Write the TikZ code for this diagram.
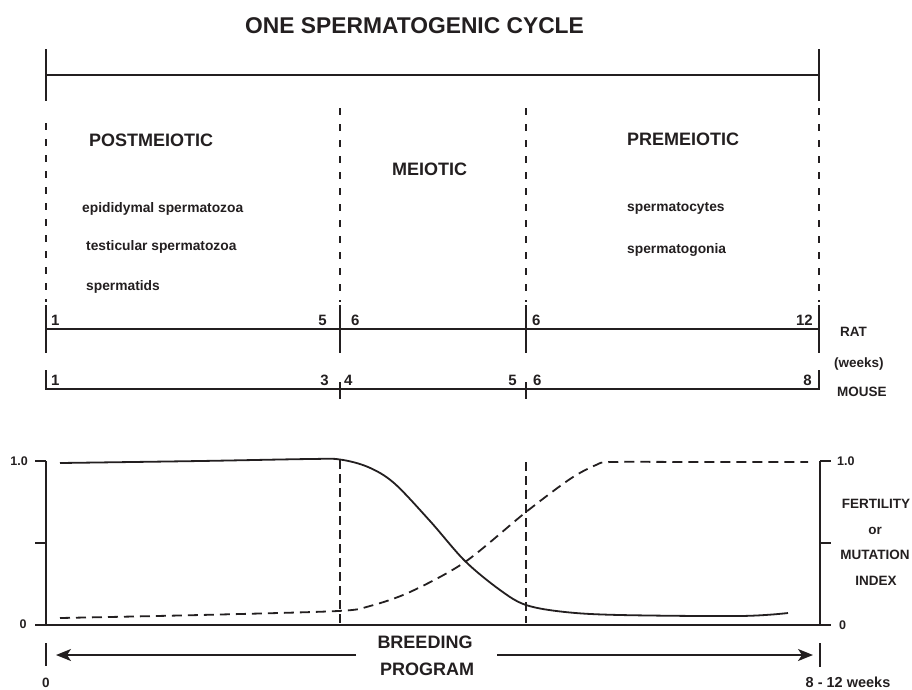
\documentclass[tikz,border=0pt]{standalone}
\usepackage{fontspec}
\setmainfont{Liberation Sans}
\usetikzlibrary{arrows.meta}
\definecolor{ink}{HTML}{231F20}

\tikzset{
  ink line/.style={draw=ink, line width=1.7pt},
  phase div/.style={draw=ink, line width=1.7pt, dash pattern=on 7pt off 9pt},
  plot div/.style={draw=ink, line width=1.6pt, dash pattern=on 9pt off 5pt},
  fert curve/.style={draw=ink, line width=1.8pt, line join=round},
  mut curve/.style={draw=ink, line width=1.8pt, dash pattern=on 10pt off 6pt},
  span arrow/.style={draw=ink, line width=1.7pt, -{Stealth[length=15pt,width=12pt,inset=4pt]}},
  txt/.style={inner sep=0pt, text=ink, font=\bfseries#1},
  titletxt/.style={txt={\fontsize{22.8}{26}\selectfont}},
  headtxt/.style={txt={\fontsize{18}{21}\selectfont}},
  bodytxt/.style={txt={\fontsize{13.8}{16}\selectfont}},
  numtxt/.style={txt={\fontsize{15}{17}\selectfont}},
  sidetxt/.style={txt={\fontsize{13.5}{16}\selectfont}},
  axtxt/.style={txt={\fontsize{12.5}{15}\selectfont}},
}

\begin{document}
\begin{tikzpicture}[x=1pt, y=-1pt]
\useasboundingbox (0,0) rectangle (912,689);

% ---------- title and cycle bar ----------
\node[titletxt, anchor=base west] (title) at (245,33) {ONE SPERMATOGENIC CYCLE};
\coordinate (cycL) at (46,75);
\coordinate (cycR) at (819,75);
\draw[ink line] (cycL) -- (cycR);
\draw[ink line] (46,49) -- (46,101);
\draw[ink line] (819,49) -- (819,101);

% ---------- phase dividers ----------
\foreach \xx/\yy in {46/123, 340/108, 526/108, 819/108}
  \draw[phase div] (\xx,\yy) -- (\xx,302);

% ---------- phase labels ----------
\node[headtxt, anchor=base west] (post) at (89,146) {POSTMEIOTIC};
\node[headtxt, anchor=base west] (mei)  at (392,175) {MEIOTIC};
\node[headtxt, anchor=base west] (pre)  at (627,145) {PREMEIOTIC};

\node[bodytxt, anchor=base west] (epi)   at (82,212) {epididymal spermatozoa};
\node[bodytxt, anchor=base west] (test)  at (86,250) {testicular spermatozoa};
\node[bodytxt, anchor=base west] (tids)  at (86,290) {spermatids};
\node[bodytxt, anchor=base west] (cytes) at (627,211) {spermatocytes};
\node[bodytxt, anchor=base west] (gonia) at (627,253) {spermatogonia};

% ---------- rat time line ----------
\coordinate (ratL) at (46,329);
\coordinate (ratR) at (819,329);
\draw[ink line] (ratL) -- (ratR);
\foreach \xx in {46,340,526,819}
  \draw[ink line] (\xx,305) -- (\xx,353);
\node[numtxt, anchor=base west] (r1)  at (51,325) {1};
\node[numtxt, anchor=base east] (r5)  at (327,325) {5};
\node[numtxt, anchor=base west] (r6a) at (351,325) {6};
\node[numtxt, anchor=base west] (r6b) at (532,325) {6};
\node[numtxt, anchor=base east] (r12) at (813,325) {12};
\node[sidetxt, anchor=base west] (rat)   at (840,336) {RAT};
\node[sidetxt, anchor=base west] (weeks) at (834,367) {(weeks)};

% ---------- mouse time line ----------
\coordinate (mouL) at (46,389);
\coordinate (mouR) at (819,389);
\draw[ink line] (46,370) -- (mouL) -- (mouR) -- (819,370);
\draw[ink line] (340,382) -- (340,399);
\draw[ink line] (526,382) -- (526,399);
\node[numtxt, anchor=base west] (m1) at (51,385) {1};
\node[numtxt, anchor=base east] (m3) at (329,385) {3};
\node[numtxt, anchor=base west] (m4) at (344,385) {4};
\node[numtxt, anchor=base east] (m5) at (517,385) {5};
\node[numtxt, anchor=base west] (m6) at (533,385) {6};
\node[numtxt, anchor=base east] (m8) at (812,385) {8};
\node[sidetxt, anchor=base west] (mouse) at (837,396) {MOUSE};

% ---------- plot frame ----------
\coordinate (o) at (46,625);
\coordinate (top) at (46,461);
\coordinate (ro) at (820,625);
\coordinate (rtop) at (820,461);
\draw[ink line] (35,625) -- (831,625);
\draw[ink line] (top) -- (o);
\draw[ink line] (rtop) -- (ro);
\draw[ink line] (35,461) -- (top);
\draw[ink line] (35,543) -- (46,543);
\draw[ink line] (rtop) -- (831,461);
\draw[ink line] (820,543) -- (831,543);

\node[axtxt, anchor=base east] (l10) at (28,465) {1.0};
\node[axtxt, anchor=base] (l0) at (23,628) {0};
\node[axtxt, anchor=base west] (r10) at (837,465) {1.0};
\node[axtxt, anchor=base west] (r0) at (839,629) {0};

\node[sidetxt, anchor=base] (fert) at (876,508) {FERTILITY};
\node[sidetxt, anchor=base] (or)   at (875,534) {or};
\node[sidetxt, anchor=base] (mut)  at (875,559) {MUTATION};
\node[sidetxt, anchor=base] (idx)  at (876,585) {INDEX};

% phase boundaries inside the plot
\draw[plot div] (340,460) -- (340,623);
\draw[plot div] (526,462) -- (526,623);

% fertility (solid) curve
\draw[fert curve] plot[smooth, tension=0.55] coordinates {
  (60,463) (200,461) (310,459) (340,459.5) (368,467) (394,483) (430,521)
  (465,561) (500,590) (526,605) (565,612) (620,615) (740,616) (788,613)};

% mutation index (dashed) curve
\draw[mut curve] plot[smooth, tension=0.5] coordinates {
  (60,618) (200,615) (338,611) (370,606) (410,592) (465,562) (526,512)
  (570,479) (596,465) (612,462) (700,462) (808,462)};

% ---------- breeding program ----------
\node[headtxt, anchor=base] (breed) at (425,648) {BREEDING};
\node[headtxt, anchor=base] (prog)  at (427,675) {PROGRAM};
\coordinate (arrL) at (56,655);
\coordinate (arrR) at (813,655);
\draw[span arrow] (356,655) -- (arrL);
\draw[span arrow] (497,655) -- (arrR);
\draw[ink line] (46,643) -- (46,666);
\draw[ink line] (820,643) -- (820,667);
\node[txt={\fontsize{13.5}{16}\selectfont}, anchor=base] (z) at (46,687) {0};
\node[txt={\fontsize{14.5}{17}\selectfont}, anchor=base] (wk) at (848,687) {8 - 12 weeks};
\end{tikzpicture}
\end{document}
